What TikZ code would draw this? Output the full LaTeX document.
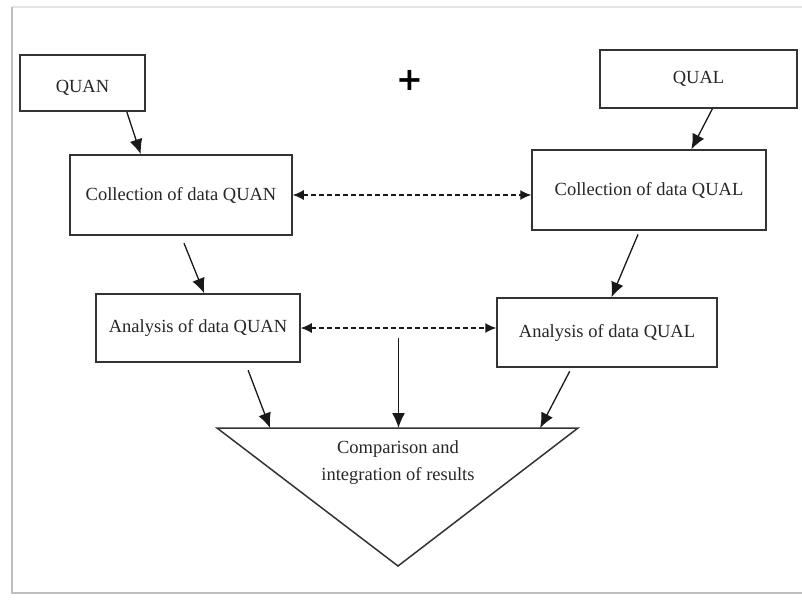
\documentclass[tikz,border=0pt]{standalone}
\usepackage{fontspec}
\setmainfont{Liberation Serif}
\newfontfamily\plusfont{DejaVu Sans}
\usetikzlibrary{arrows.meta,calc}
\begin{document}
\begin{tikzpicture}[x=1pt,y=-1pt,font=\fontsize{18.5}{27}\selectfont]
  \tikzstyle{box}=[draw=black!80,line width=1.5pt,inner sep=0pt,align=center,fill=white,text=black!85]
  \tikzstyle{link}=[-{Latex[length=15pt,width=13pt]},line width=1.3pt,black!90]
  \tikzstyle{dlink}=[{Latex[length=11pt,width=10pt]}-{Latex[length=11pt,width=10pt]},dash pattern=on 5pt off 3pt,line width=1.3pt,black!90]
  \useasboundingbox (0,0) rectangle (802,599);
  % page frame
  \draw[black!10,line width=1.5pt] (806,7) -- (12,7);
  \draw[black!25,line width=2pt] (12,7) -- (12,593) -- (806,593);
  % sources
  \node[box,minimum width=125pt,minimum height=56pt,text depth=0pt,text height=19pt] (quan) at (82.5,83) {QUAN};
  \node[box,minimum width=197pt,minimum height=58pt] (qual) at (698.5,79) {QUAL};
  \node[font=\plusfont\bfseries\fontsize{32}{32}\selectfont] (plus) at (410,80) {+};
  % collection and analysis
  \node[box,minimum width=222pt,minimum height=80pt] (collquan) at (181,195) {Collection of data QUAN};
  \node[box,minimum width=234pt,minimum height=80pt] (collqual) at (649,190) {Collection of data QUAL};
  \node[box,minimum width=204pt,minimum height=68pt] (anaquan) at (198,328) {Analysis of data QUAN};
  \node[box,minimum width=220pt,minimum height=69pt] (anaqual) at (607,332.5) {Analysis of data QUAL};
  % result triangle
  \coordinate (tl) at (217,428);
  \coordinate (tr) at (578,428);
  \coordinate (tip) at (398,566);
  \draw[draw=black!80,line width=1.5pt,line join=miter] (tl) -- (tr) -- (tip) -- cycle;
  \node[align=center,text=black!85] (result) at (398,463) {Comparison and\\integration of results};
  % downward arrows
  \draw[link] ($(quan.south west)!0.85!(quan.south east)$) -- ($(collquan.north west)!0.32!(collquan.north east)$);
  \draw[link] ($(qual.south west)!0.57!(qual.south east)$) -- ($(collqual.north west)!0.68!(collqual.north east)$);
  \draw[link,shorten <=8pt] ($(collquan.south west)!0.5!(collquan.south east)$) -- ($(anaquan.north west)!0.53!(anaquan.north east)$);
  \draw[link,shorten <=4pt] ($(collqual.south west)!0.46!(collqual.south east)$) -- ($(anaqual.north west)!0.52!(anaqual.north east)$);
  \draw[link,shorten <=8pt] ($(anaquan.south west)!0.73!(anaquan.south east)$) -- ($(tl)!0.147!(tr)$);
  \draw[link,shorten <=4pt] ($(anaqual.south west)!0.34!(anaqual.south east)$) -- ($(tl)!0.895!(tr)$);
  % dashed links between the two strands
  \draw[dlink] (collquan.east) -- (collquan.east -| collqual.west);
  \draw[dlink] (anaquan.east) -- (anaquan.east -| anaqual.west);
  \coordinate (mid) at ($(anaquan.east)!0.5!(anaquan.east -| anaqual.west)$);
  \draw[link,shorten <=10pt] (mid) -- (mid |- tl);
\end{tikzpicture}
\end{document}
